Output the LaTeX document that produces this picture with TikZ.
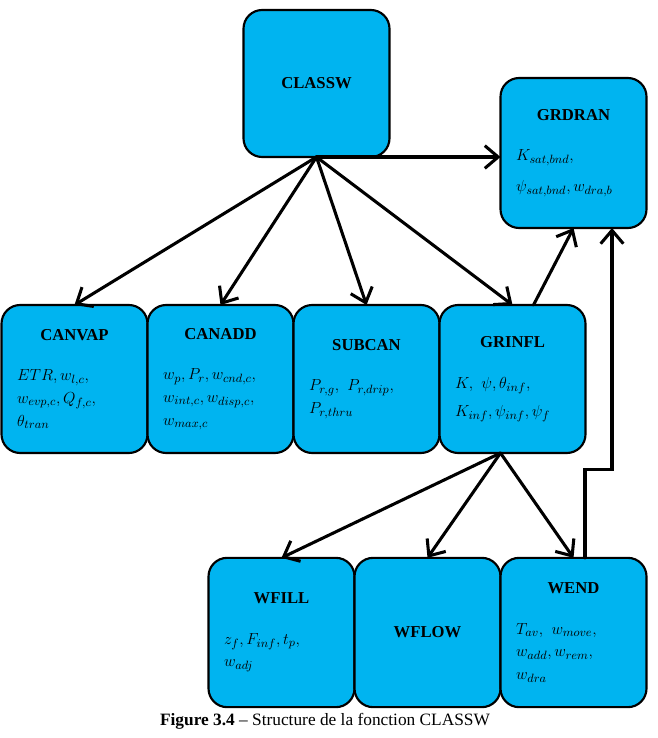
\documentclass[tikz,border=0pt]{standalone}
\usepackage{fontspec}
\setmainfont{Liberation Serif}
\DeclareMathSizes{12.5}{12.5}{9.5}{7.5}
\usetikzlibrary{arrows.meta,positioning,calc}
\definecolor{boxblue}{HTML}{00B4F0}
\newcommand{\boxtxt}[2]{\textbf{#1}\\[21pt]\begin{minipage}{86pt}\raggedright #2\end{minipage}}

\begin{document}
\begin{tikzpicture}[x=0.75pt, y=-0.75pt,
      >={Straight Barb[length=10pt,width=17pt]},
      box/.style={draw, line width=1.6pt, fill=boxblue, rounded corners=14pt, outer sep=0pt,
        minimum width=109.5pt, minimum height=111pt, inner xsep=11.5pt, text width=86.5pt,
        align=center, font=\fontsize{12.5}{17}\selectfont},
      conn/.style={->, line width=2.3pt, line cap=round}]
    \useasboundingbox (0,0) rectangle (657,738);
    \node[box, minimum height=110.25pt] (classw) at (316.5,83.5) {\textbf{CLASSW}};
    \node[box, minimum height=112.5pt] (grdran) at (573.5,153) {\boxtxt{GRDRAN}{$K_{sat,bnd},$\\[6pt] $\psi_{sat,bnd}, w_{dra,b}$}};
    \node[box] (canvap) at (74.5,379) {\boxtxt{CANVAP}{$ETR, w_{l,c},$\\ $w_{evp,c}, Q_{f,c},$\\ $\theta_{tran}$}};
    \node[box, right=0pt of canvap] (canadd) {\boxtxt{CANADD}{$w_p, P_r, w_{cnd,c},$\\ $w_{int,c}, w_{disp,c},$\\ $w_{max,c}$}};
    \node[box, right=0pt of canadd] (subcan) {\boxtxt{SUBCAN}{$P_{r,g},\ P_{r,drip},$\\ $P_{r,thru}$}};
    \node[box, right=0pt of subcan] (grinfl) {\boxtxt{GRINFL}{$K,\ \psi, \theta_{inf},$\\[4pt] $K_{inf}, \psi_{inf}, \psi_f$}};
    \node[box, minimum height=112pt] (wfill) at (281.5,632.5) {\boxtxt{WFILL}{$z_f, F_{inf}, t_p,$\\ $w_{adj}$}};
    \node[box, minimum height=112pt, right=0pt of wfill] (wflow) {\textbf{WFLOW}};
    \node[box, minimum height=112pt, right=0pt of wflow] (wend) {\boxtxt{WEND}{$T_{av},\ w_{move},$\\ $w_{add}, w_{rem},$\\ $w_{dra}$}};
    \node[font=\fontsize{13}{15}\selectfont] (cap) at (325,721) {\textbf{Figure 3.4} – Structure de la fonction CLASSW};
    \draw[conn] (classw.south) -- (canvap.north);
    \draw[conn] (classw.south) -- (canadd.north);
    \draw[conn] (classw.south) -- (subcan.north);
    \draw[conn] (classw.south) -- (grinfl.north);
    \draw[conn] (classw.south) -- (classw.south -| grdran.west);
    \draw[conn] ($(grinfl.north)+(21,0)$) -- (grdran.south);
    \draw[conn] ($(grinfl.south)+(-12,0)$) -- (wfill.north);
    \draw[conn] ($(grinfl.south)+(-12,0)$) -- (wflow.north);
    \draw[conn] ($(grinfl.south)+(-12,0)$) -- (wend.north);
    \draw[conn] ($(wend.north)+(11.5,0)$) -- ++(0,-88) -| ($(grdran.south)+(38.5,0)$);
  \end{tikzpicture}
\end{document}
